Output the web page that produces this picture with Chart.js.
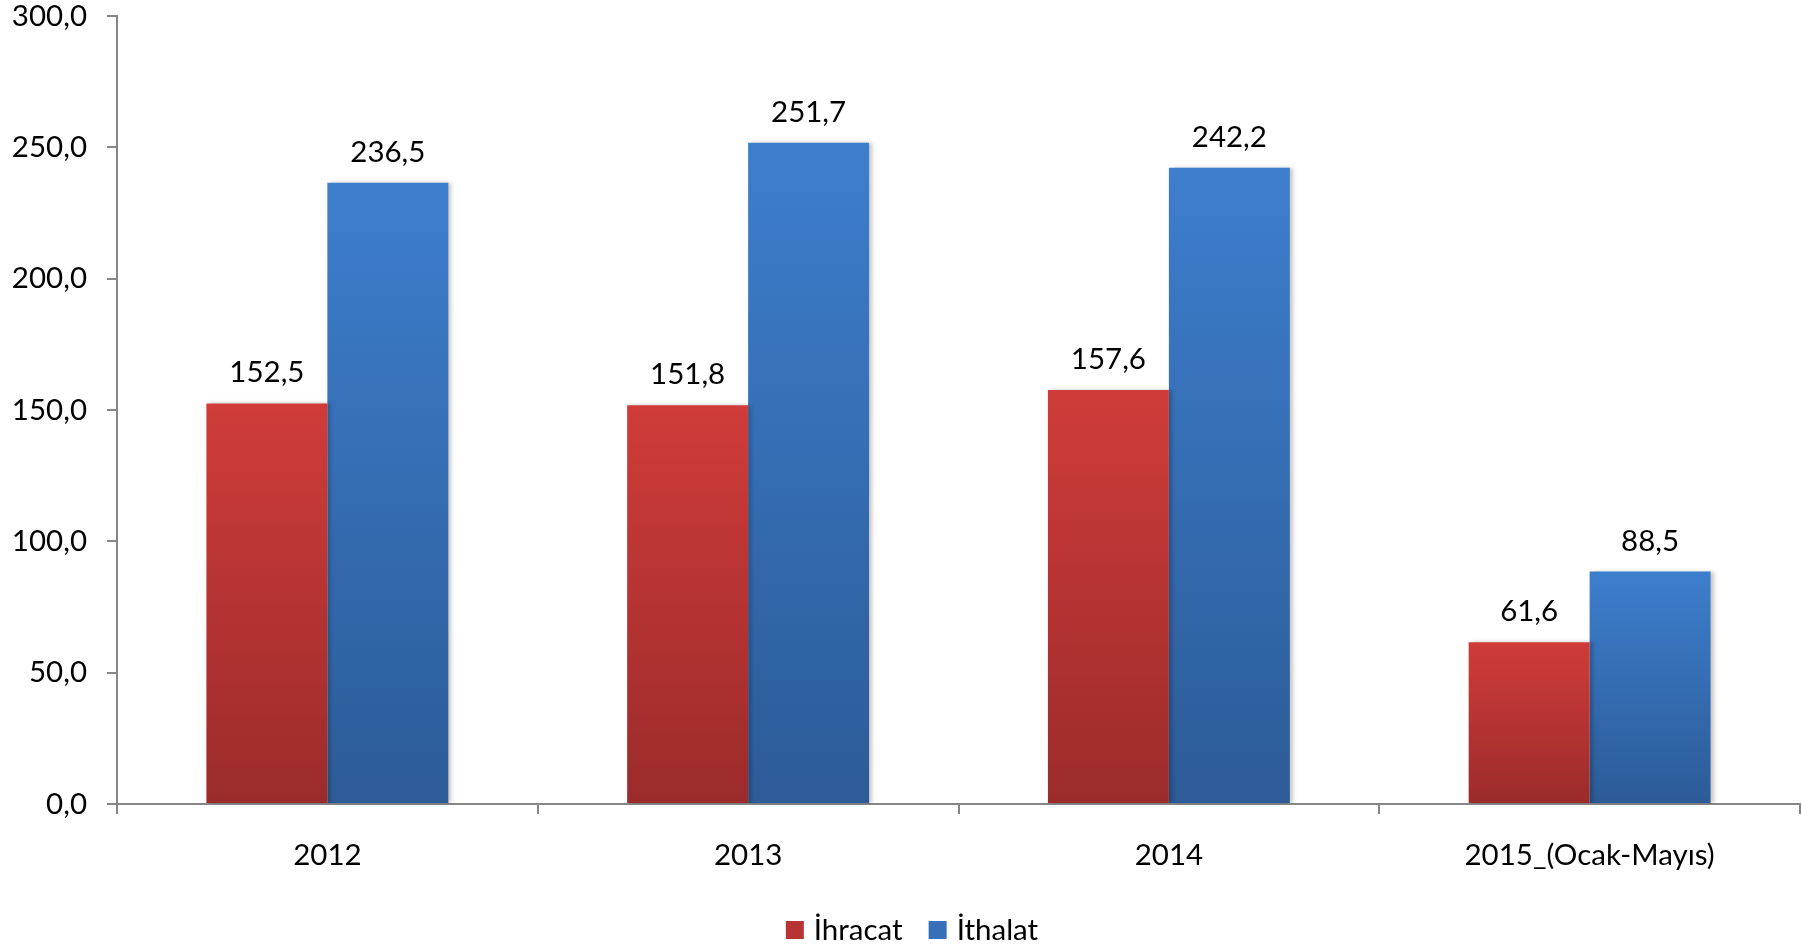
<!DOCTYPE html>
<html>
<head>
<meta charset="utf-8">
<script src="https://cdn.jsdelivr.net/npm/chart.js@4"></script>
<style>
  html, body { margin: 0; padding: 0; background: #fff; }
  #wrap { width: 1802px; height: 949px; }
</style>
</head>
<body>
<div id="wrap"><canvas id="chart" width="1802" height="949"></canvas></div>
<script>
// Dış ticaret verileri (milyar $)
const years = ['2012', '2013', '2014', '2015_(Ocak-Mayıs)'];
const ihracat = [152.5, 151.8, 157.6, 61.6];
const ithalat = [236.5, 251.7, 242.2, 88.5];
const yTicks = [0, 50, 100, 150, 200, 250, 300];
const legendColors = ['#b83433', '#3570b8'];

const FONT = 'Lato, "Open Sans", sans-serif';
const FONT_SIZE = 29.5;

// format numbers with a Turkish decimal comma
function fmt(v) {
  return v.toFixed(1).replace('.', ',');
}

// per-bar vertical gradient, light on top and dark at the base
function barGradient(top, bottom) {
  return function (context) {
    const chart = context.chart;
    if (!chart.chartArea || context.raw === undefined) return top;
    const y = chart.scales.y;
    const y0 = y.getPixelForValue(context.raw);
    const y1 = y.getPixelForValue(0);
    const g = chart.ctx.createLinearGradient(0, y0, 0, y1);
    g.addColorStop(0, top);
    g.addColorStop(1, bottom);
    return g;
  };
}

// draw the value above each bar
const valueLabels = {
  id: 'valueLabels',
  afterDatasetsDraw(chart) {
    const ctx = chart.ctx;
    ctx.save();
    ctx.font = FONT_SIZE + 'px ' + FONT;
    ctx.fillStyle = '#000';
    ctx.textAlign = 'center';
    ctx.textBaseline = 'alphabetic';
    chart.data.datasets.forEach((ds, i) => {
      const meta = chart.getDatasetMeta(i);
      meta.data.forEach((bar, j) => {
        ctx.fillText(fmt(ds.data[j]), bar.x, bar.y - 21);
      });
    });
    ctx.restore();
  }
};

// soft shadow to the right of the bars
const barShadow = {
  id: 'barShadow',
  beforeDatasetsDraw(chart) {
    const ctx = chart.ctx;
    ctx.save();
    ctx.shadowColor = 'rgba(0,0,0,0.22)';
    ctx.shadowBlur = 4;
    ctx.shadowOffsetX = 3;
    ctx.shadowOffsetY = 0;
  },
  afterDatasetsDraw(chart) {
    chart.ctx.restore();
  }
};

// legend at the bottom, drawn by hand to match the spacing
const bottomLegend = {
  id: 'bottomLegend',
  afterDraw(chart) {
    const ctx = chart.ctx;
    ctx.save();
    ctx.font = FONT_SIZE + 'px ' + FONT;
    ctx.textBaseline = 'middle';
    ctx.textAlign = 'left';
    const box = 18, gap = 10, itemGap = 26;
    const items = chart.data.datasets.map((ds, i) => ({
      text: ds.label,
      color: legendColors[i],
      w: box + gap + ctx.measureText(ds.label).width
    }));
    const total = items.reduce((s, it) => s + it.w, 0) + itemGap * (items.length - 1);
    let x = chart.width / 2 + 11 - total / 2;
    const cy = chart.height - 19;
    items.forEach(it => {
      ctx.fillStyle = it.color;
      ctx.fillRect(x, cy - box / 2, box, box);
      ctx.fillStyle = '#000';
      ctx.fillText(it.text, x + box + gap, cy);
      x += it.w + itemGap;
    });
    ctx.restore();
  }
};

const ctx = document.getElementById('chart').getContext('2d');

new Chart(ctx, {
  type: 'bar',
  data: {
    labels: years,
    datasets: [
      {
        label: 'İhracat',
        data: ihracat,
        backgroundColor: barGradient('#cf3c39', '#9b2b2b'),
        borderWidth: 0,
        barPercentage: 1,
        categoryPercentage: 0.575
      },
      {
        label: 'İthalat',
        data: ithalat,
        backgroundColor: barGradient('#3d7ecd', '#2c5b97'),
        borderWidth: 0,
        barPercentage: 1,
        categoryPercentage: 0.575
      }
    ]
  },
  options: {
    responsive: false,
    animation: false,
    layout: {
      padding: { top: 16, right: 2, left: 0, bottom: 60 }
    },
    scales: {
      x: {
        grid: {
          display: true,
          drawOnChartArea: false,
          drawTicks: true,
          tickLength: 10,
          color: '#868686',
          lineWidth: 2
        },
        border: { display: true, color: '#868686', width: 2 },
        ticks: {
          color: '#000',
          font: { family: FONT, size: FONT_SIZE },
          padding: 24
        },
        afterFit(scale) {
          scale.height = 85;
        }
      },
      y: {
        min: 0,
        max: 300,
        afterBuildTicks(scale) {
          scale.ticks = yTicks.map(v => ({ value: v }));
        },
        grid: {
          display: true,
          drawOnChartArea: false,
          drawTicks: true,
          tickLength: 10,
          color: '#868686',
          lineWidth: 2
        },
        border: { display: true, color: '#868686', width: 2 },
        ticks: {
          color: '#000',
          font: { family: FONT, size: FONT_SIZE },
          padding: 20,
          callback: function (value) {
            return fmt(value);
          }
        },
        afterFit(scale) {
          scale.width = 117;
          scale.paddingTop = 0;
          scale.paddingBottom = 0;
        }
      }
    },
    plugins: {
      legend: { display: false },
      tooltip: { enabled: false }
    }
  },
  plugins: [barShadow, valueLabels, bottomLegend]
});
</script>
</body>
</html>
